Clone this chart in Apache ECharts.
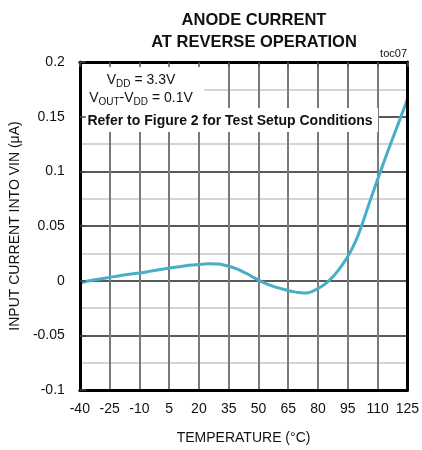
<!DOCTYPE html>
<html>
<head>
<meta charset="utf-8">
<script src="https://cdn.jsdelivr.net/npm/echarts@6/dist/echarts.min.js"></script>
<style>html,body{margin:0;padding:0;background:#fff}#c{width:422px;height:450px}</style>
</head>
<body>
<div id="c"></div>
<script>
// Data
var temperatures = [-40, -35, -30, -25, -20, -15, -10, -5, 0, 5, 10, 15, 20, 25, 30, 32.5, 35, 37.5, 40, 42.5, 45, 47.5, 50, 52.5, 55, 57.5, 60, 62.5, 65, 67.5, 70, 72.5, 75, 77.5, 80, 82.5, 85, 87.5, 90, 92.5, 95, 97.5, 100, 102.5, 105, 107.5, 110, 112.5, 115, 117.5, 120, 122.5, 125];
var currents = [-0.002, 0.0, 0.0015, 0.003, 0.0045, 0.0058, 0.007, 0.0085, 0.010, 0.0115, 0.0128, 0.014, 0.0148, 0.0154, 0.0152, 0.0144, 0.0132, 0.0118, 0.0100, 0.0079, 0.0056, 0.0030, 0.0005, -0.0016, -0.0036, -0.0052, -0.0066, -0.0079, -0.0090, -0.0100, -0.0108, -0.0113, -0.0110, -0.0095, -0.0072, -0.0045, -0.0008, 0.0035, 0.0090, 0.0152, 0.0222, 0.0305, 0.0405, 0.0530, 0.0665, 0.0795, 0.0925, 0.1050, 0.1175, 0.1295, 0.1415, 0.1535, 0.166];
var xTicks = [-40, -25, -10, 5, 20, 35, 50, 65, 80, 95, 110, 125];
var yTicks = [-0.1, -0.05, 0, 0.05, 0.1, 0.15, 0.2];
var titleLines = ['ANODE CURRENT', 'AT REVERSE OPERATION'];
var xName = 'TEMPERATURE (°C)';
var yName = 'INPUT CURRENT INTO VIN (μA)';
var noteCode = 'toc07';
var noteRefer = 'Refer to Figure 2 for Test Setup Conditions';

var FONT = 'Liberation Sans, Arial, sans-serif';
var xMin = xTicks[0], xMax = xTicks[xTicks.length - 1], xStep = xTicks[1] - xTicks[0];
var yMin = yTicks[0], yMax = yTicks[yTicks.length - 1], yStep = 0.05;

var seriesData = temperatures.map(function (t, i) { return [t, currents[i]]; });

var chart = echarts.init(document.getElementById('c'), null, {renderer: 'canvas'});
var grid = {left: 78, top: 62, right: 14, bottom: 58};
var baseX = {type: 'value', min: xMin, max: xMax, interval: xStep};
var baseY = {type: 'value', min: yMin, max: yMax, interval: yStep};
chart.setOption({
  animation: false,
  grid: grid,
  xAxis: [
    Object.assign({}, baseX, {
      position: 'bottom',
      name: xName, nameLocation: 'middle', nameGap: 41,
      nameTextStyle: {fontFamily: FONT, fontSize: 14, color: '#111'},
      axisLine: {show: false},
      axisTick: {show: false},
      axisLabel: {fontFamily: FONT, fontSize: 14, color: '#111', margin: 12},
      splitLine: {show: true, lineStyle: {color: '#7a7a7a', width: 2}}
    }),
    Object.assign({}, baseX, {
      position: 'top', z: 50,
      axisLine: {show: true, onZero: false, lineStyle: {color: '#000', width: 3}},
      axisTick: {show: true, inside: true, length: 5, lineStyle: {color: '#555', width: 1.5}},
      axisLabel: {show: false},
      splitLine: {show: false}
    }),
    Object.assign({}, baseX, {
      position: 'bottom', z: 50,
      axisLine: {show: true, onZero: false, lineStyle: {color: '#000', width: 3}},
      axisTick: {show: false},
      axisLabel: {show: false},
      splitLine: {show: false}
    })
  ],
  yAxis: [
    Object.assign({}, baseY, {
      position: 'left',
      name: yName, nameLocation: 'middle', nameGap: 52, nameRotate: 90,
      nameTextStyle: {fontFamily: FONT, fontSize: 14, color: '#111'},
      axisLine: {show: false},
      axisTick: {show: false},
      axisLabel: {fontFamily: FONT, fontSize: 14, color: '#111', margin: 15},
      splitLine: {show: true, lineStyle: {color: '#222', width: 1.5}},
      minorTick: {show: false, splitNumber: 2},
      minorSplitLine: {show: true, lineStyle: {color: '#c8c8c8', width: 1.5}}
    }),
    Object.assign({}, baseY, {
      position: 'left', z: 50,
      axisLine: {show: true, onZero: false, lineStyle: {color: '#000', width: 3}},
      axisTick: {show: true, inside: true, length: 6, lineStyle: {color: '#444', width: 1.5}},
      axisLabel: {show: false},
      splitLine: {show: false}
    }),
    Object.assign({}, baseY, {
      position: 'right', z: 50,
      axisLine: {show: true, onZero: false, lineStyle: {color: '#000', width: 3}},
      axisTick: {show: false},
      axisLabel: {show: false},
      splitLine: {show: false}
    })
  ],
  series: [{
    type: 'line',
    xAxisIndex: 0, yAxisIndex: 0,
    data: seriesData,
    smooth: 0.3,
    showSymbol: false,
    z: 30,
    lineStyle: {color: '#47aec8', width: 3}
  }],
  graphic: [
    {type: 'text', x: 254, y: 9, z: 60, style: {text: titleLines.join('\n'), fontFamily: FONT, fontWeight: 'bold', fontSize: 16.5, lineHeight: 22, fill: '#111', align: 'center', verticalAlign: 'top'}},
    {type: 'text', x: 407, y: 54, z: 60, style: {text: noteCode, fontFamily: FONT, fontSize: 11, fill: '#111', align: 'right', verticalAlign: 'middle'}},
    {type: 'rect', z: 40, shape: {x: 80, y: 64, width: 124, height: 44}, style: {fill: '#fff'}},
    {type: 'rect', z: 40, shape: {x: 80, y: 108, width: 298, height: 24}, style: {fill: '#fff'}},
    {type: 'text', x: 141, y: 71, z: 60, style: {
      text: 'V{s|DD} = 3.3V\nV{s|OUT}-V{s|DD} = 0.1V',
      fontFamily: FONT, fontSize: 14, lineHeight: 18, fill: '#111', align: 'center', verticalAlign: 'top',
      rich: {s: {fontFamily: FONT, fontSize: 10, fill: '#111', verticalAlign: 'bottom', padding: [6, 0, 0, 0]}}
    }},
    {type: 'text', x: 230, y: 121, z: 60, style: {text: noteRefer, fontFamily: FONT, fontWeight: 'bold', fontSize: 14, fill: '#111', align: 'center', verticalAlign: 'middle'}}
  ]
});
</script>
</body>
</html>
